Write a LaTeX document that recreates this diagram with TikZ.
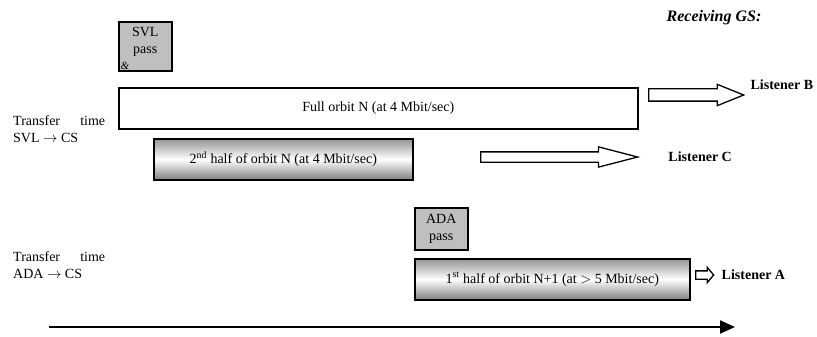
\documentclass[tikz,border=0pt]{standalone}
\usepackage{fontspec}
\setmainfont{Liberation Serif}
\usetikzlibrary{positioning, arrows.meta, shapes.arrows}

\begin{document}
\begin{tikzpicture}[x=1pt, y=-1pt, font=\fontsize{14}{17}\selectfont,
    passbox/.style={draw, line width=1.6pt, fill=gray!50, align=center, inner sep=0pt,
      anchor=north west, minimum width=53pt},
    orbitbox/.style={draw, line width=1.6pt, anchor=north west, inner sep=0pt, minimum height=41pt},
    halfbox/.style={orbitbox, top color=gray!85, bottom color=gray, middle color=white},
    blockarrow/.style={single arrow, draw, line width=1.3pt, fill=white, inner xsep=0pt, anchor=tail},
    listener/.style={font=\fontsize{14}{17}\selectfont\bfseries, inner sep=0pt},
    transfer/.style={align=left, anchor=north west, inner sep=0pt}]
    \useasboundingbox (0,0) rectangle (817,337);
    % header
    \node[font=\fontsize{16}{19}\selectfont\bfseries\itshape] (recv) at (714,18) {Receiving GS:};
    % SVL pass and its transfers
    \node[passbox, minimum height=49pt] (svl) at (118,21) {SVL\\pass\\[-6pt]};
    \node[font=\fontsize{11}{12}\selectfont\itshape, inner sep=0pt] (amp) at (125,66) {\&};
    \node[orbitbox, minimum width=519pt] (full) at (118,87) {Full orbit N (at 4 Mbit/sec)};
    \node[halfbox, minimum width=259pt] (secnd) at (153,138) {2\textsuperscript{nd} half of orbit N (at 4 Mbit/sec)};
    \node[transfer] (tsvl) at (13,115) {\makebox[92pt][s]{Transfer time}\\SVL $\rightarrow$ CS};
    % ADA pass and its transfer
    \node[passbox, minimum height=42pt] (ada) at (414,207) {ADA\\pass};
    \node[halfbox, minimum width=275pt] (first) at (414,258) {1\textsuperscript{st} half of orbit N+1 (at $>$ 5 Mbit/sec)};
    \node[transfer] (tada) at (13,251) {\makebox[92pt][s]{Transfer time}\\ADA $\rightarrow$ CS};
    % outputs to the listeners
    \node[blockarrow, minimum height=95pt, inner ysep=5.5pt, single arrow head extend=4.5pt,
          single arrow tip angle=44] (arrB) at (648,95) {};
    \node[blockarrow, minimum height=157pt, inner ysep=4.5pt, single arrow head extend=5pt,
          single arrow tip angle=29] (arrC) at (480,157) {};
    \node[blockarrow, minimum height=18pt, inner ysep=3.5pt, single arrow head extend=3.5pt,
          single arrow tip angle=100] (arrA) at (695,275) {};
    \node[listener, right=5pt of arrB.tip, yshift=10pt] (lisB) {Listener B};
    \node[listener, right=28pt of arrC.tip] (lisC) {Listener C};
    \node[listener, right=7pt of arrA.tip] (lisA) {Listener A};
    % time axis
    \coordinate (t0) at (49,327);
    \coordinate (t1) at (735,327);
    \draw[line width=2.2pt, -{Triangle[length=15pt, width=13pt]}] (t0) -- (t1);
\end{tikzpicture}
\end{document}
